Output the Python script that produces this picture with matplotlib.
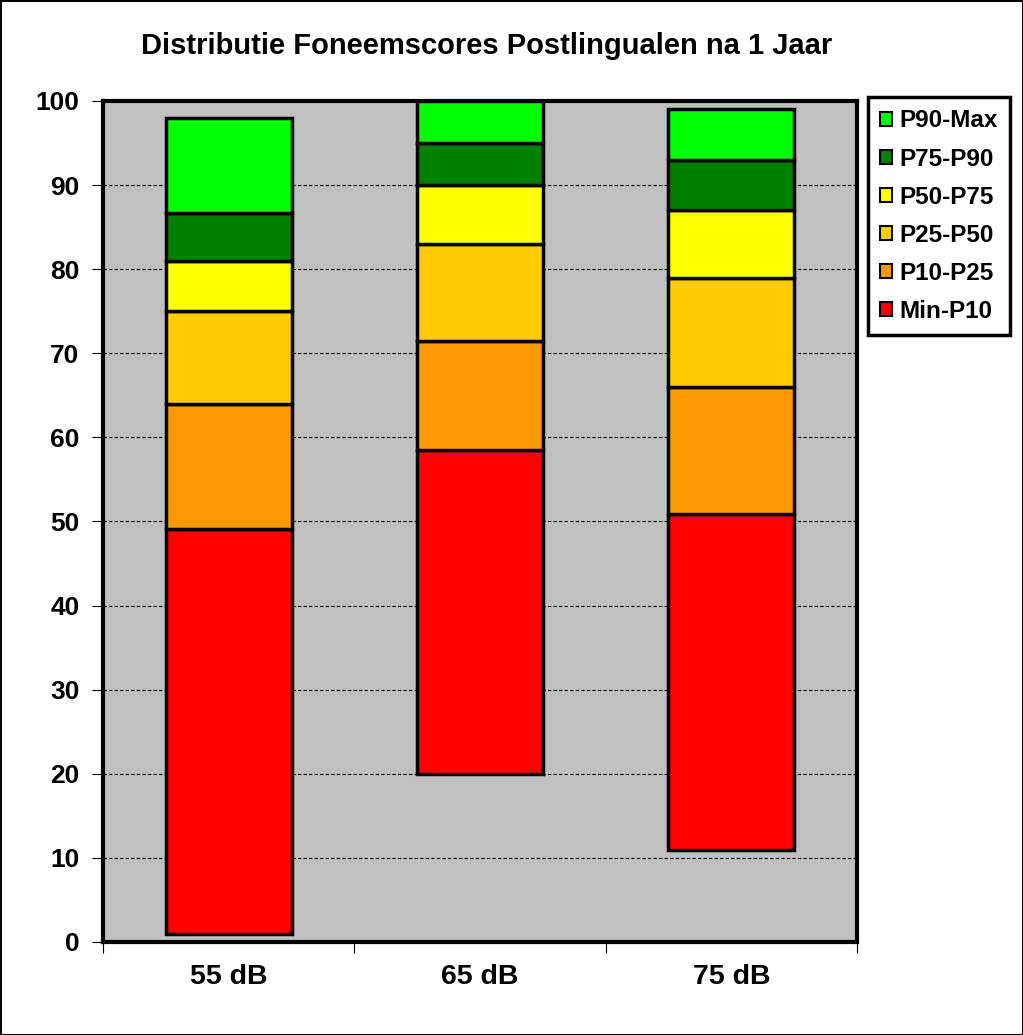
import numpy as np
import matplotlib
matplotlib.use('Agg')
from matplotlib import pyplot as plt

plt.rcParams['font.family'] = ['Liberation Sans', 'DejaVu Sans']

categories = ['55 dB', '65 dB', '75 dB']
bottoms = [1, 20, 10.9]
# cumulative upper limits of each band
p10 = [49.1, 58.5, 50.9]
p25 = [64, 71.5, 66]
p50 = [75, 83, 79]
p75 = [81, 90, 87]
p90 = [86.7, 95, 93]
pmax = [98, 100, 99]

bands = ['Min-P10', 'P10-P25', 'P25-P50', 'P50-P75', 'P75-P90', 'P90-Max']
colors = ['#ff0000', '#ff9900', '#ffcc00', '#ffff00', '#008000', '#00ff00']

fig = plt.figure(figsize=(10.23, 10.35), dpi=100)
fig.patch.set_edgecolor('black')
fig.patch.set_linewidth(2)
ax = fig.add_axes([0.1007, 0.0899, 0.737, 0.8126])
ax.set_facecolor('#c0c0c0')

x = np.arange(len(categories))
levels = [bottoms, p10, p25, p50, p75, p90, pmax]
handles = []
for i in range(len(bands)):
    lo = np.array(levels[i])
    hi = np.array(levels[i + 1])
    b = ax.bar(x, hi - lo, bottom=lo, width=0.5, color=colors[i],
               edgecolor='black', linewidth=2.5, label=bands[i], zorder=3)
    handles.append(b)

ax.set_xlim(-0.5, 2.5)
ax.set_ylim(0, 100)
ax.set_yticks(range(0, 101, 10))
ax.yaxis.grid(True, linestyle=(0, (3, 2)), color='black', linewidth=0.8, zorder=1)
ax.set_axisbelow(True)
ax.set_xticks(x)
ax.set_xticklabels(categories, fontsize=20.5, fontweight='bold')
ax.tick_params(axis='x', length=0, pad=16)
ax.set_xticks([-0.5, 0.5, 1.5, 2.5], minor=True)
ax.tick_params(axis='x', which='minor', length=8, direction='out', width=0.8)
ax.tick_params(axis='y', labelsize=19, length=8, width=0.8, pad=9)
for lab in ax.get_yticklabels():
    lab.set_fontweight('bold')
for s in ax.spines.values():
    s.set_linewidth(3)

fig.text(0.476, 0.956, 'Distributie Foneemscores Postlingualen na 1 Jaar',
         ha='center', va='center', fontsize=21, fontweight='bold')

leg = fig.legend(handles[::-1], bands[::-1], loc='upper left',
                 bbox_to_anchor=(0.848, 0.906), frameon=True, framealpha=1,
                 fancybox=False, edgecolor='black', handlelength=0.5,
                 handleheight=0.5, handletextpad=0.3, labelspacing=0.62,
                 borderpad=0.5, borderaxespad=0,
                 prop={'weight': 'bold', 'size': 17.5})
leg.get_frame().set_linewidth(2.5)
for h in leg.legend_handles:
    h.set_linewidth(1.5)

plt.savefig('out.png', dpi=100, edgecolor=fig.get_edgecolor())
